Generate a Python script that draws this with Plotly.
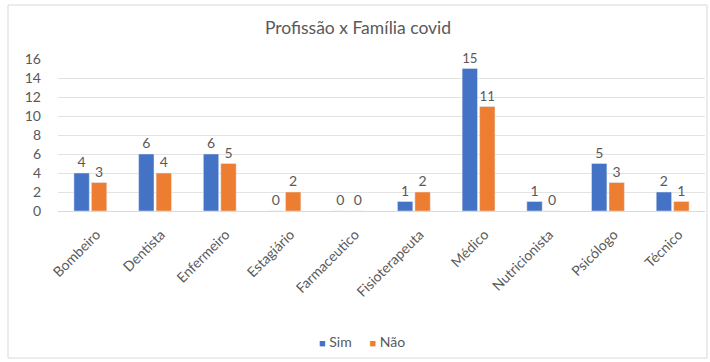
import plotly.graph_objects as go

profissoes = ["Bombeiro", "Dentista", "Enfermeiro", "Estagiário", "Farmaceutico",
              "Fisioterapeuta", "Médico", "Nutricionista", "Psicólogo", "Técnico"]
sim = [4, 6, 6, 0, 0, 1, 15, 1, 5, 2]
nao = [3, 4, 5, 2, 0, 2, 11, 0, 3, 1]
y_ticks = [0, 2, 4, 6, 8, 10, 12, 14, 16]
series_names = ["Sim", "Não"]
series_colors = ["#4472C4", "#ED7D31"]

W, H = 710, 362
L, R, T, B = 58, 5, 59, 151
pw, ph = W - L - R, H - T - B

def px_x(x):
    return (x - L) / pw

def px_y(y):
    return (H - B - y) / ph

font_family = "Lato, 'Open Sans', sans-serif"
label_color = "#595959"

fig = go.Figure()
for name, vals, color in zip(series_names, [sim, nao], series_colors):
    fig.add_trace(go.Bar(name=name, x=profissoes, y=vals, marker_color=color,
                         text=vals, textposition="outside", cliponaxis=False,
                         textfont=dict(size=14, color=label_color),
                         showlegend=False))

# legend drawn as a single centred text line with coloured squares
gap = "&nbsp;" * 5
legend_text = gap.join(
    f"<span style='color:{c}; font-size:11px'>■</span> {n}"
    for n, c in zip(series_names, series_colors)
)

fig.update_layout(
    width=W, height=H,
    margin=dict(l=L, r=R, t=T, b=B),
    paper_bgcolor="white", plot_bgcolor="white",
    font=dict(family=font_family, color=label_color, size=13),
    barmode="group", bargap=0.46, bargroupgap=0.12,
    title=dict(text="Profissão x Família covid", x=px_x(358), xref="paper",
               xanchor="center", y=1 - 28 / H, yanchor="middle",
               font=dict(size=17.5, color=label_color)),
    xaxis=dict(tickangle=-45, showgrid=False, showline=True, linecolor="#d9d9d9",
               tickfont=dict(size=14, color=label_color), ticks="",
               ticklabelshift=6, ticklabelstandoff=9),
    yaxis=dict(range=[0, 16], tickvals=y_ticks, showgrid=True, gridcolor="#e3e3e3",
               zeroline=False, ticks="", tickfont=dict(size=14, color=label_color),
               ticklabelstandoff=16),
    annotations=[dict(text=legend_text, xref="paper", yref="paper",
                      x=px_x(362), y=px_y(341), xanchor="center", yanchor="middle",
                      showarrow=False, font=dict(size=14, color=label_color))],
    shapes=[dict(type="rect", xref="paper", yref="paper",
                 x0=px_x(8), x1=px_x(707), y0=px_y(358), y1=px_y(5),
                 line=dict(color="#d9d9d9", width=1), fillcolor="rgba(0,0,0,0)",
                 layer="below")],
)

fig.write_html("out.html")
